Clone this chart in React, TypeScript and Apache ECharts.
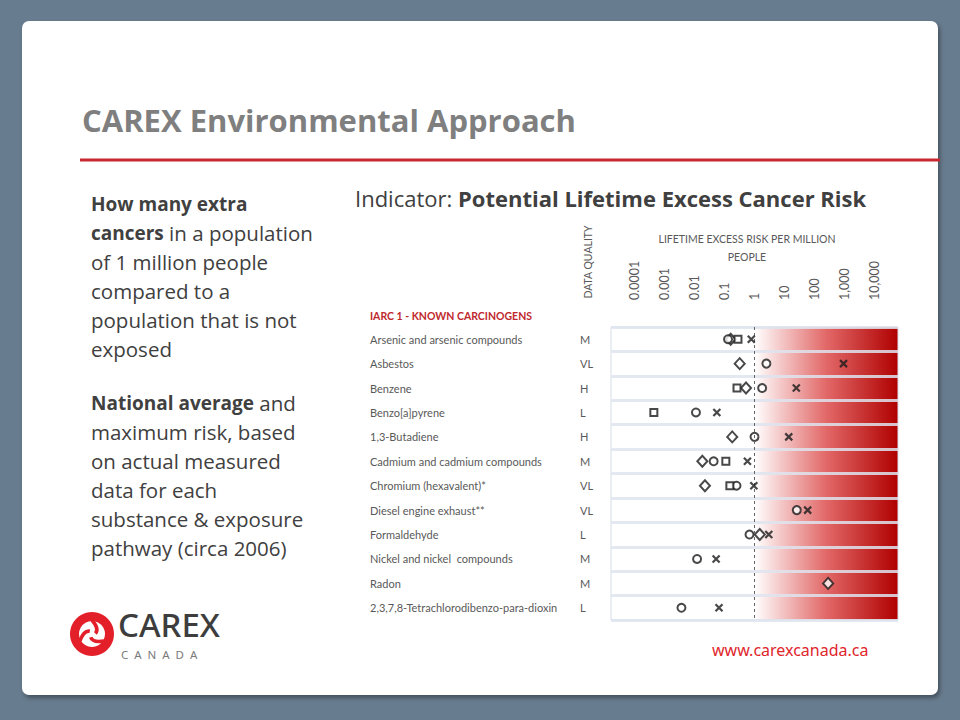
import React, { useEffect, useRef } from "react";
import * as echarts from "echarts";

const SUBSTANCES = [
  "Arsenic and arsenic compounds",
  "Asbestos",
  "Benzene",
  "Benzo[a]pyrene",
  "1,3-Butadiene",
  "Cadmium and cadmium compounds",
  "Chromium (hexavalent)*",
  "Diesel engine exhaust**",
  "Formaldehyde",
  "Nickel and nickel  compounds",
  "Radon",
  "2,3,7,8-Tetrachlorodibenzo-para-dioxin",
];
const QUALITY = ["M", "VL", "H", "L", "H", "M", "VL", "VL", "L", "M", "M", "L"];

// lifetime excess risk per million people
const DIAMOND = [0.16, 0.32, 0.52, null, 0.18, 0.018, 0.022, null, 1.5, null, 290, null];
const CIRCLE = [0.13, 2.5, 1.8, 0.011, 1.0, 0.043, 0.25, 26, 0.68, 0.012, null, 0.0036];
const SQUARE = [0.28, null, 0.26, 0.00043, null, 0.11, 0.15, null, null, null, null, null];
const CROSS = [0.78, 950, 25, 0.055, 14, 0.58, 0.95, 60, 3.0, 0.052, null, 0.065];

const TICK_VALUES = [0.0001, 0.001, 0.01, 0.1, 1, 10, 100, 1000, 10000];
const TICK_LABELS = ["0.0001", "0.001", "0.01", "0.1", "1", "10", "100", "1,000", "10,000"];

const LOG_MIN = -4.8;
const LOG_MAX = 4.8;

const FONT = "'Open Sans', 'Noto Sans', sans-serif";
const CHART_FONT = "Lato, 'Open Sans', sans-serif";

function toPoints(arr: (number | null)[]) {
  const out: [number, number][] = [];
  arr.forEach((v, i) => {
    if (v !== null) out.push([Math.log10(v), i]);
  });
  return out;
}

export default function App() {
  const ref = useRef<HTMLDivElement>(null);
  useEffect(() => {
    document.body.style.margin = "0";
    const chart = echarts.init(ref.current!, null, { renderer: "svg" });
    const stop = (0 - LOG_MIN) / (LOG_MAX - LOG_MIN);
    const grad = new echarts.graphic.LinearGradient(0, 0, 1, 0, [
      { offset: 0, color: "#ffffff" },
      { offset: stop, color: "#ffffff" },
      { offset: stop + (1 - stop) * 0.5, color: "#e26868" },
      { offset: 1, color: "#b00000" },
    ]);
    const markerStyle = { color: "#ffffff", borderColor: "#1a1a1a", borderWidth: 2 };
    const leftText =
      "{b|How many extra}\n" +
      "{b|cancers}{r| in a population}\n" +
      "{r|of 1 million people}\n" +
      "{r|compared to a}\n" +
      "{r|population that is not}\n" +
      "{r|exposed}\n" +
      "{e| }\n" +
      "{b|National average}{r| and}\n" +
      "{r|maximum risk, based}\n" +
      "{r|on actual measured}\n" +
      "{r|data for each}\n" +
      "{r|substance & exposure}\n" +
      "{r|pathway (circa 2006)}";
    const cx = 92;
    const cy = 634;
    const cuts = [0, 1, 2].map((k) => {
      const a0 = -Math.PI / 2 + (k * 2 * Math.PI) / 3;
      const a1 = a0 + Math.PI / 2.2;
      const am = a0 + Math.PI / 3.2;
      return {
        type: "bezierCurve",
        shape: {
          x1: cx + 14 * Math.cos(a0),
          y1: cy + 14 * Math.sin(a0),
          x2: cx + 3.5 * Math.cos(a1),
          y2: cy + 3.5 * Math.sin(a1),
          cpx1: cx + 9 * Math.cos(am),
          cpy1: cy + 9 * Math.sin(am),
        },
        style: { stroke: "#e3202a", lineWidth: 3.6, fill: null },
      };
    });
    chart.setOption({
      animation: false,
      grid: {
        left: 611,
        right: 62,
        top: 327,
        bottom: 100,
        show: true,
        backgroundColor: grad,
        borderColor: "#d6dce5",
        borderWidth: 1,
      },
      xAxis: {
        type: "value",
        position: "top",
        min: LOG_MIN,
        max: LOG_MAX,
        axisLine: { show: false },
        axisTick: { show: false },
        splitLine: { show: false },
        axisLabel: {
          customValues: TICK_VALUES.map((v) => Math.log10(v)),
          formatter: (v: number) => {
            const idx = TICK_VALUES.findIndex((t) => Math.abs(Math.log10(t) - v) < 1e-6);
            return idx >= 0 ? TICK_LABELS[idx] : "";
          },
          rotate: -90,
          margin: 27,
          color: "#595959",
          fontSize: 12.5,
          fontFamily: CHART_FONT,
        },
      },
      yAxis: [
        {
          type: "category",
          data: SUBSTANCES,
          inverse: true,
          axisLine: { show: false },
          axisTick: { show: false },
          splitLine: { show: true, lineStyle: { color: "rgba(222,228,238,0.85)", width: 3 } },
          axisLabel: {
            align: "left",
            margin: 241,
            color: "#595959",
            fontSize: 11,
            fontFamily: CHART_FONT,
          },
        },
        {
          type: "category",
          data: SUBSTANCES,
          inverse: true,
          position: "left",
          axisLine: { show: false },
          axisTick: { show: false },
          splitLine: { show: false },
          axisLabel: {
            align: "left",
            margin: 31,
            color: "#595959",
            fontSize: 11,
            fontFamily: CHART_FONT,
            formatter: (_v: string, i: number) => QUALITY[i],
          },
        },
      ],
      series: [
        {
          name: "Diamond",
          type: "scatter",
          symbol: "diamond",
          symbolSize: [10, 11],
          itemStyle: markerStyle,
          data: toPoints(DIAMOND),
          z: 3,
          markLine: {
            silent: true,
            symbol: "none",
            label: { show: false },
            lineStyle: { color: "#666", type: [3, 3], width: 1 },
            data: [{ xAxis: 0 }],
          },
        },
        {
          name: "Circle",
          type: "scatter",
          symbol: "circle",
          symbolSize: 8,
          itemStyle: markerStyle,
          data: toPoints(CIRCLE),
          z: 4,
        },
        {
          name: "Square",
          type: "scatter",
          symbol: "rect",
          symbolSize: 7,
          itemStyle: markerStyle,
          data: toPoints(SQUARE),
          z: 5,
        },
        {
          name: "Cross",
          type: "scatter",
          symbol: "path://M0,0L10,10M10,0L0,10",
          symbolSize: 7,
          itemStyle: { color: "#1a1a1a", borderColor: "#1a1a1a", borderWidth: 2.2 },
          data: toPoints(CROSS),
          z: 6,
        },
      ],
      graphic: [
        {
          type: "text",
          left: 82,
          top: 104,
          style: {
            text: "CAREX Environmental Approach",
            fill: "#7f7f7f",
            font: `bold 31px ${FONT}`,
          },
        },
        {
          type: "line",
          shape: { x1: 80, y1: 160, x2: 940, y2: 160 },
          style: { stroke: "#c8282e", lineWidth: 3 },
        },
        {
          type: "text",
          left: 91,
          top: 194,
          style: {
            text: leftText,
            rich: {
              b: { font: `bold 19px ${FONT}`, fill: "#404040", lineHeight: 29 },
              r: { font: `20.5px ${FONT}`, fill: "#404040", lineHeight: 29 },
              e: { font: `10px ${FONT}`, fill: "#404040", lineHeight: 25 },
            },
          },
        },
        {
          type: "text",
          left: 355,
          top: 187,
          style: {
            text: "{r|Indicator: }{b|Potential Lifetime Excess Cancer Risk}",
            rich: {
              b: { font: `bold 22px ${FONT}`, fill: "#404040" },
              r: { font: `22px ${FONT}`, fill: "#404040" },
            },
          },
        },
        {
          type: "text",
          x: 747,
          y: 239,
          style: {
            text: "LIFETIME EXCESS RISK PER MILLION",
            fill: "#595959",
            font: `10.5px ${CHART_FONT}`,
            align: "center",
            verticalAlign: "middle",
          },
        },
        {
          type: "text",
          x: 747,
          y: 257,
          style: {
            text: "PEOPLE",
            fill: "#595959",
            font: `10.5px ${CHART_FONT}`,
            align: "center",
            verticalAlign: "middle",
          },
        },
        {
          type: "text",
          x: 588,
          y: 262,
          rotation: Math.PI / 2,
          style: {
            text: "DATA QUALITY",
            fill: "#595959",
            font: `10.5px ${CHART_FONT}`,
            align: "center",
            verticalAlign: "middle",
          },
        },
        {
          type: "text",
          x: 370,
          y: 316,
          style: {
            text: "IARC 1 - KNOWN CARCINOGENS",
            fill: "#c0282d",
            font: `bold 10.5px ${CHART_FONT}`,
            verticalAlign: "middle",
          },
        },
        { type: "circle", shape: { cx, cy, r: 22 }, style: { fill: "#e3202a" } },
        { type: "circle", shape: { cx, cy, r: 13 }, style: { fill: "#ffffff" } },
        ...cuts,
        {
          type: "text",
          x: 118,
          y: 624,
          style: {
            text: "CAREX",
            fill: "#3d3d3d",
            font: `500 33px 'Noto Sans', sans-serif`,
            lineHeight: 26,
            verticalAlign: "middle",
          },
        },
        {
          type: "text",
          x: 121,
          y: 654,
          style: {
            text: "C  A  N  A  D  A",
            fill: "#7a7a7a",
            font: `11.5px 'Noto Sans', sans-serif`,
            lineHeight: 11,
            verticalAlign: "middle",
          },
        },
        {
          type: "text",
          x: 712,
          y: 650,
          style: {
            text: "www.carexcanada.ca",
            fill: "#e0252b",
            font: `16px 'Noto Sans', sans-serif`,
            verticalAlign: "middle",
          },
        },
      ],
    });
    return () => chart.dispose();
  }, []);
  return (
    <div style={{ position: "relative", width: 960, height: 720, background: "#687c8f", overflow: "hidden" }}>
      <div
        style={{
          position: "absolute",
          left: 22,
          top: 21,
          width: 916,
          height: 674,
          background: "#ffffff",
          borderRadius: 7,
          boxShadow: "2px 3px 4px rgba(0,0,0,0.35)",
        }}
      />
      <div ref={ref} style={{ position: "absolute", left: 0, top: 0, width: 960, height: 720 }} />
    </div>
  );
}
